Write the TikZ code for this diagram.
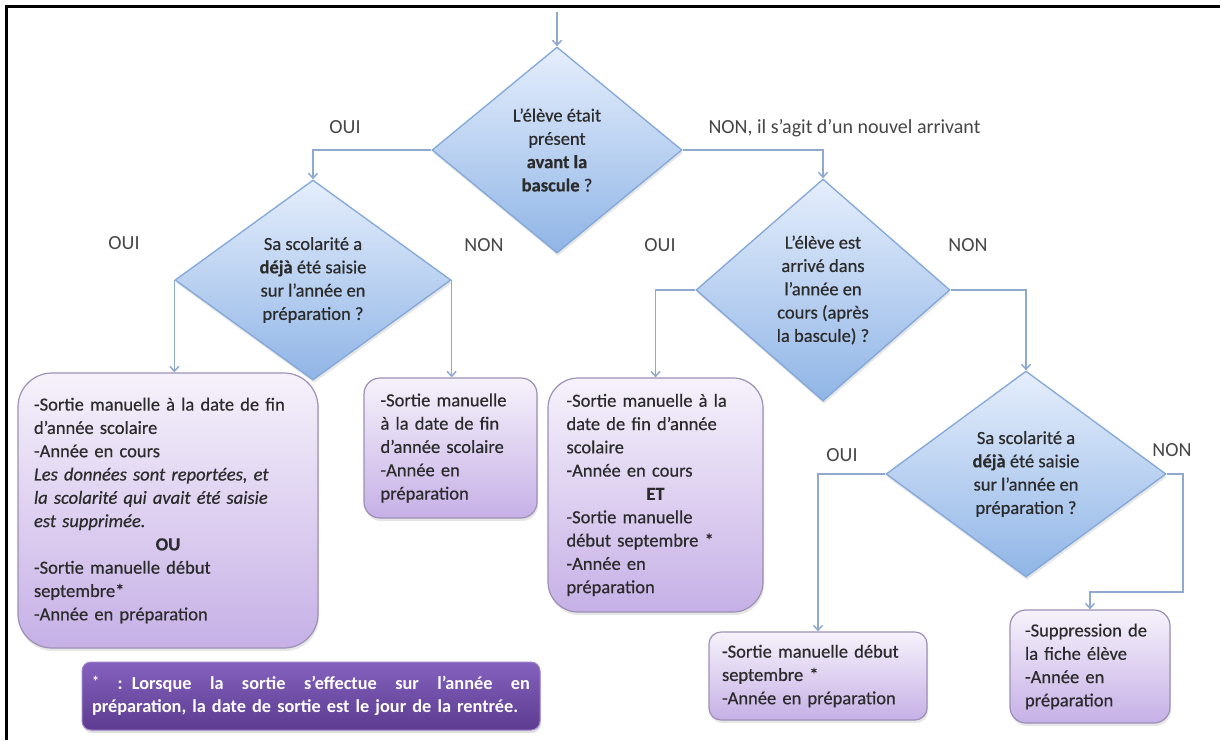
\documentclass[tikz,border=0pt]{standalone}
\usepackage{fontspec}
\setmainfont{Carlito}
\newfontfamily\heavyfont{Carlito}[FakeBold=0.5]
\usetikzlibrary{positioning, shapes.geometric, arrows.meta, shadows}

\definecolor{qtop}{HTML}{E5EEFC}
\definecolor{qbot}{HTML}{90B5E6}
\definecolor{qline}{HTML}{82A7D8}
\definecolor{btop}{HTML}{F6F2FB}
\definecolor{bbot}{HTML}{C6B0E6}
\definecolor{bline}{HTML}{9C90B6}
\definecolor{ntop}{HTML}{8462BE}
\definecolor{nbot}{HTML}{5C3B90}
\definecolor{wire}{HTML}{8FA9CF}
\definecolor{ink}{HTML}{2B2B2B}
\definecolor{labelink}{HTML}{454545}

\hyphenpenalty=10000
\exhyphenpenalty=10000

\begin{document}
\begin{tikzpicture}[x=1pt, y=-1pt]
      % Define styles for nodes
      \tikzset{
        question/.style={diamond, draw=qline, line width=1.3pt, top color=qtop, bottom color=qbot, inner sep=0pt, align=center, text=ink, font=\heavyfont\fontsize{18.5}{23.3}\selectfont, drop shadow={opacity=0.2, shadow xshift=1pt, shadow yshift=-3pt}},
        outcome/.style={rectangle, rounded corners=#1, draw=bline, line width=1.2pt, top color=btop, bottom color=bbot, inner sep=0pt, align=left, text=ink, font=\heavyfont\fontsize{18.5}{23.3}\selectfont, drop shadow={opacity=0.2, shadow xshift=1pt, shadow yshift=-3pt}},
        footnote/.style={rectangle, rounded corners=9pt, draw=ntop!80!white, line width=1pt, top color=ntop, bottom color=nbot, inner sep=0pt, align=left, text=white, font=\fontsize{18.3}{22.5}\selectfont\bfseries, drop shadow={opacity=0.25, shadow xshift=1pt, shadow yshift=-3pt}},
        flow/.style={draw=wire, line width=1.5pt, -{Straight Barb[length=5pt, width=9pt]}},
        annotation/.style={font=\fontsize{20}{24}\selectfont, text=labelink}
      }

      \useasboundingbox (0,0) rectangle (1220,740);
      \draw[line width=3pt] (6,740) -- (6,6) -- (1220,6);

      % Create the decisions
      \coordinate (start) at (557,12);
      \node[question, minimum width=250pt, minimum height=206pt, shape aspect=1.2] (q1) at (557,150)
        {L’élève était\\présent\\\textbf{avant la}\\\textbf{bascule} ?};
      \node[question, minimum width=276pt, minimum height=200pt, shape aspect=1.38] (q2) at (313,280)
        {Sa scolarité a\\\textbf{déjà} été saisie\\sur l’année en\\préparation ?};
      \node[question, minimum width=254pt, minimum height=222pt, shape aspect=1.14] (q3) at (823,290)
        {L’élève est\\arrivé dans\\l’année en\\cours (après\\la bascule) ?};
      \node[question, minimum width=280pt, minimum height=206pt, shape aspect=1.36] (q4) at (1026,474)
        {Sa scolarité a\\\textbf{déjà} été saisie\\sur l’année en\\préparation ?};

      % Create the outcomes
      \node[outcome=34pt, minimum width=300pt, minimum height=275pt, text width=268pt] (boxA) at (168,510.5)
        {-Sortie manuelle à la date de fin\\
         d’année scolaire\\
         -Année en cours\\
         \textit{Les données sont reportées, et}\\
         \textit{la scolarité qui avait été saisie}\\
         \textit{est supprimée.}\\
         \makebox[\linewidth]{\textbf{OU}}\\
         -Sortie manuelle début\\
         septembre*\\
         -Année en préparation};
      \node[outcome=16pt, minimum width=173pt, minimum height=140pt, text width=140pt] (boxB) at (450.5,448)
        {-Sortie manuelle\\à la date de fin\\d’année scolaire\\-Année en\\préparation};
      \node[outcome=30pt, minimum width=215pt, minimum height=234pt, text width=178pt] (boxC) at (655.5,495)
        {-Sortie manuelle à la\\
         date de fin d’année\\
         scolaire\\
         -Année en cours\\
         \makebox[\linewidth]{\textbf{ET}}\\
         -Sortie manuelle\\
         début septembre *\\
         -Année en\\
         préparation};
      \node[outcome=12pt, minimum width=218pt, minimum height=88pt, text width=192pt] (boxD) at (818,676)
        {-Sortie manuelle début\\septembre *\\-Année en préparation};
      \node[outcome=16pt, minimum width=160pt, minimum height=113pt, text width=130pt] (boxE) at (1090,666.5)
        {-Suppression de\\la fiche élève\\-Année en\\préparation};
      \node[footnote, minimum width=458pt, minimum height=68pt, text width=438pt] (note) at (311,696)
        {\makebox[\linewidth][s]{\spaceskip=.25em plus 10em\raisebox{3pt}{\Large*} : Lorsque la sortie s’effectue sur l’année en}\\
         préparation, la date de sortie est le jour de la rentrée.};

      % Draw the edges connecting the nodes
      \coordinate (bend) at (1183,592);
      \draw[flow] (start) -- (q1.north);
      \draw[flow] (q1.west) -| (q2.north);
      \draw[flow] (q1.east) -| (q3.north);
      \draw[flow] (q2.west) -- (q2.west |- boxA.north);
      \draw[flow] (q2.east) -- (q2.east |- boxB.north);
      \draw[flow] (q3.west) -| (boxC.north);
      \draw[flow] (q3.east) -| (q4.north);
      \draw[flow] (q4.west) -| (boxD.north);
      \draw[flow] (q4.east) -| (bend) -| (boxE.north);

      % Add annotations next to the edges
      \node[annotation] (oui1) at (345,127) {OUI};
      \node[annotation, anchor=west] (non1) at (705,128) {NON, il s’agit d’un nouvel arrivant};
      \node[annotation] (oui2) at (124,243) {OUI};
      \node[annotation] (non2) at (484,245) {NON};
      \node[annotation] (oui3) at (660,245) {OUI};
      \node[annotation] (non3) at (968,245) {NON};
      \node[annotation] (oui4) at (842,455) {OUI};
      \node[annotation] (non4) at (1172,450) {NON};
    \end{tikzpicture}
\end{document}
